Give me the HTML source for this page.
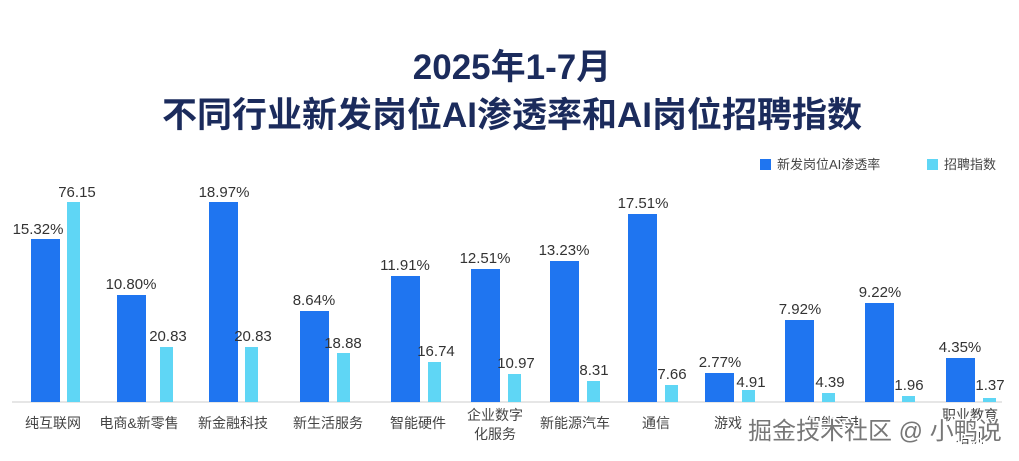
<!DOCTYPE html>
<html><head><meta charset="utf-8"><style>
body{margin:0;background:#fff;}
svg text{font-family:"Liberation Sans","Noto Sans CJK SC",sans-serif;}
</style></head><body>
<svg width="1019" height="456" viewBox="0 0 1019 456" xmlns="http://www.w3.org/2000/svg">
<rect width="1019" height="456" fill="#fff"/>
<text x="512" y="79" text-anchor="middle" font-size="35" font-weight="bold" fill="#1b2b5c">2025年1-7月</text>
<text x="512" y="127" text-anchor="middle" font-size="35" font-weight="bold" fill="#1b2b5c">不同行业新发岗位AI渗透率和AI岗位招聘指数</text>
<rect x="760" y="159" width="11" height="11" fill="#1f75f0"/>
<text x="777" y="169" font-size="13" fill="#444">新发岗位AI渗透率</text>
<rect x="927" y="159" width="11" height="11" fill="#5fd6f5"/>
<text x="944" y="169" font-size="13" fill="#444">招聘指数</text>
<line x1="12" y1="402" x2="1002" y2="402" stroke="#ddd" stroke-width="1.5"/>
<g font-size="15" fill="#333" text-anchor="middle">
<rect x="31" y="239" width="29" height="163" fill="#1f75f0"/><rect x="67" y="202" width="13" height="200" fill="#5fd6f5"/>
<text x="38" y="234">15.32%</text><text x="77" y="197">76.15</text>
<rect x="117" y="295" width="29" height="107" fill="#1f75f0"/><rect x="160" y="347" width="13" height="55" fill="#5fd6f5"/>
<text x="131" y="289">10.80%</text><text x="168" y="341">20.83</text>
<rect x="209" y="202" width="29" height="200" fill="#1f75f0"/><rect x="245" y="347" width="13" height="55" fill="#5fd6f5"/>
<text x="224" y="197">18.97%</text><text x="253" y="341">20.83</text>
<rect x="300" y="311" width="29" height="91" fill="#1f75f0"/><rect x="337" y="353" width="13" height="49" fill="#5fd6f5"/>
<text x="314" y="305">8.64%</text><text x="343" y="348">18.88</text>
<rect x="391" y="276" width="29" height="126" fill="#1f75f0"/><rect x="428" y="362" width="13" height="40" fill="#5fd6f5"/>
<text x="405" y="270">11.91%</text><text x="436" y="356">16.74</text>
<rect x="471" y="269" width="29" height="133" fill="#1f75f0"/><rect x="508" y="374" width="13" height="28" fill="#5fd6f5"/>
<text x="485" y="263">12.51%</text><text x="516" y="368">10.97</text>
<rect x="550" y="261" width="29" height="141" fill="#1f75f0"/><rect x="587" y="381" width="13" height="21" fill="#5fd6f5"/>
<text x="564" y="255">13.23%</text><text x="594" y="375">8.31</text>
<rect x="628" y="214" width="29" height="188" fill="#1f75f0"/><rect x="665" y="385" width="13" height="17" fill="#5fd6f5"/>
<text x="643" y="208">17.51%</text><text x="672" y="379">7.66</text>
<rect x="705" y="373" width="29" height="29" fill="#1f75f0"/><rect x="742" y="390" width="13" height="12" fill="#5fd6f5"/>
<text x="720" y="367">2.77%</text><text x="751" y="387">4.91</text>
<rect x="785" y="320" width="29" height="82" fill="#1f75f0"/><rect x="822" y="393" width="13" height="9" fill="#5fd6f5"/>
<text x="800" y="314">7.92%</text><text x="830" y="387">4.39</text>
<rect x="865" y="303" width="29" height="99" fill="#1f75f0"/><rect x="902" y="396" width="13" height="6" fill="#5fd6f5"/>
<text x="880" y="297">9.22%</text><text x="909" y="390">1.96</text>
<rect x="946" y="358" width="29" height="44" fill="#1f75f0"/><rect x="983" y="398" width="13" height="4" fill="#5fd6f5"/>
<text x="960" y="352">4.35%</text><text x="990" y="390">1.37</text>
</g>
<g font-size="14" fill="#444" text-anchor="middle">
<text x="53" y="428">纯互联网</text>
<text x="139" y="428">电商&amp;新零售</text>
<text x="233" y="428">新金融科技</text>
<text x="328" y="428">新生活服务</text>
<text x="418" y="428">智能硬件</text>
<text x="495" y="420">企业数字</text><text x="495" y="439">化服务</text>
<text x="575" y="428">新能源汽车</text>
<text x="656" y="428">通信</text>
<text x="728" y="428">游戏</text>
<text x="835" y="428">智能家电</text>
<text x="970" y="420">职业教育</text><text x="970" y="443">培训</text>
</g>
<text x="748" y="439" font-size="24" fill="#777" stroke="#fff" stroke-width="3" paint-order="stroke">掘金技术社区 @ 小鸭说</text>
</svg>
</body></html>
